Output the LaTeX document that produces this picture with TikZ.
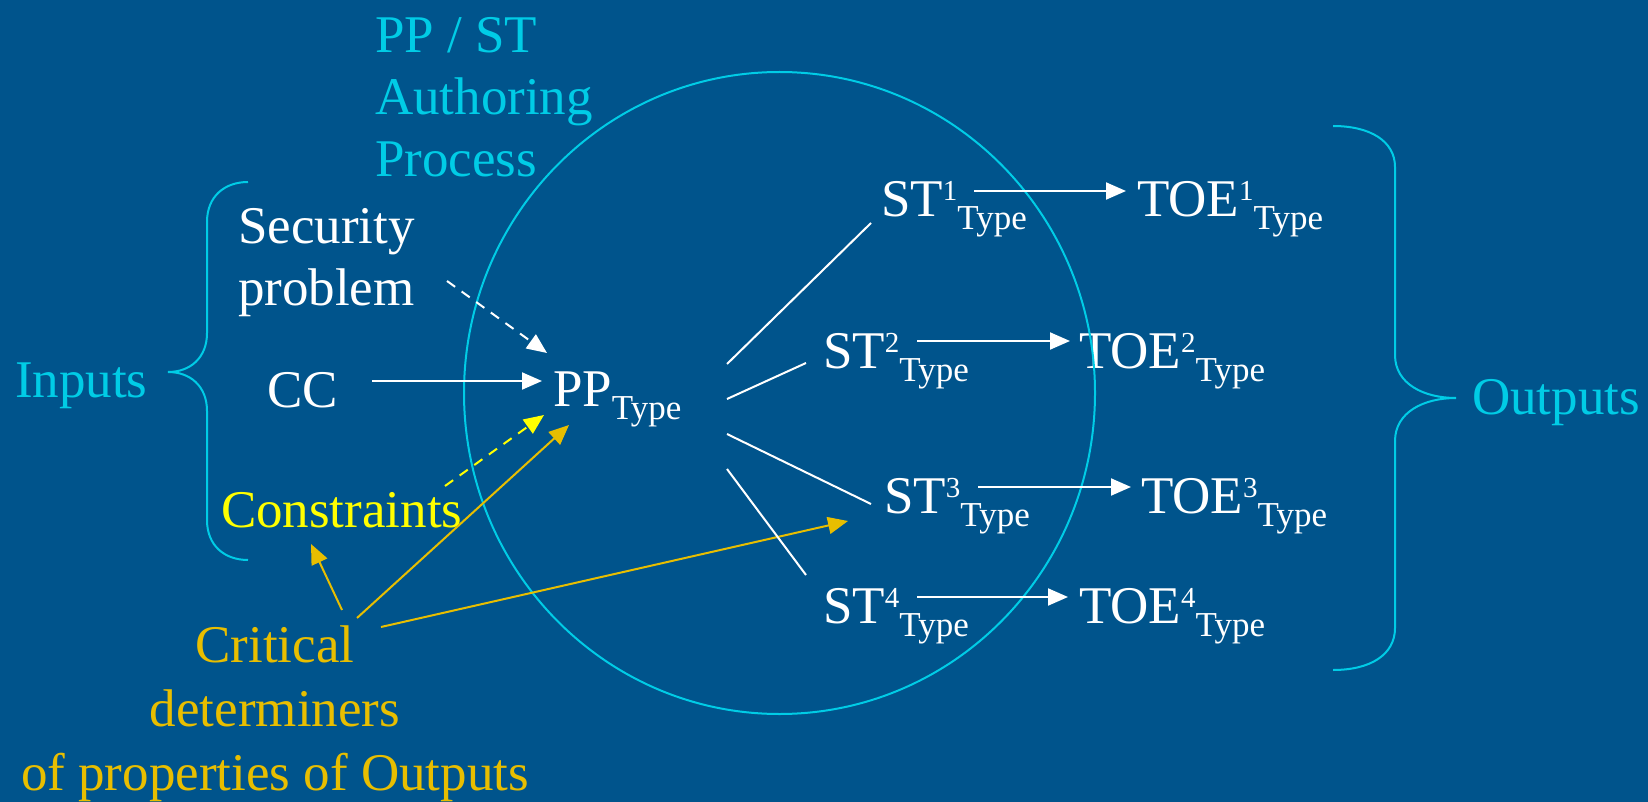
\documentclass[tikz,border=0pt]{standalone}
\usepackage{fontspec}
\setmainfont{Liberation Serif}
\usetikzlibrary{arrows.meta}

\definecolor{bgblue}{RGB}{0,84,140}
\definecolor{cyanx}{RGB}{0,204,230}
\definecolor{yelx}{RGB}{255,255,0}
\definecolor{goldx}{RGB}{232,190,0}

% raised / lowered small text, set one after the other
\newcommand\supx[1]{\raisebox{8pt}{\fontsize{14.5}{14.5}\selectfont #1}}
\newcommand\subx[1]{\raisebox{-6.5pt}{\fontsize{17.5}{17.5}\selectfont #1}}
\newcommand\ctrline[1]{\hbox to 0pt{\hss #1\hss}}

\tikzset{
  every node/.style={inner sep=0pt, outer sep=0pt, font=\fontsize{26.5}{31}\selectfont},
  lbl/.style={anchor=base west},
  wline/.style={white, line width=1pt},
  warr/.style={white, line width=1pt, -{Triangle[length=10pt,width=8.5pt]}},
  garr/.style={goldx, line width=1pt, -{Triangle[length=10pt,width=8.5pt]}},
  dashy/.style={line width=1pt, dash pattern=on 5pt off 4pt},
  bracex/.style={cyanx, line width=1pt},
}

\begin{document}
\begin{tikzpicture}[x=0.5pt, y=-0.5pt]
  \fill[bgblue] (0,0) rectangle (1648,802);
  \useasboundingbox (0,0) rectangle (1648,802);

  % labels
  \node[lbl, text=cyanx] (title) at (375,53)
    {\vtop{\baselineskip=31pt\hbox{PP / ST}\hbox{Authoring}\hbox{Process}}};
  \node[lbl, text=white] (secprob) at (238,243)
    {\vtop{\baselineskip=31pt\hbox{Security}\hbox{problem}}};
  \node[lbl, text=white] (cc) at (267,407) {CC};
  \node[lbl, text=white] (pp) at (553,406) {PP\subx{Type}};
  \node[lbl, text=yelx] (cons) at (221,527) {Constraints};
  \node[anchor=base, text=goldx] (crit) at (275,662)
    {\vtop{\baselineskip=32pt\ctrline{Critical}\ctrline{determiners}\ctrline{of properties of Outputs}}};
  \node[lbl, text=cyanx] (inputs) at (15,397) {Inputs};
  \node[lbl, text=cyanx] (outputs) at (1472,414) {Outputs};

  \node[lbl, text=white] (st1) at (881,217) {ST\supx{1}\subx{Type}};
  \node[lbl, text=white] (st2) at (823,368) {ST\supx{2}\subx{Type}};
  \node[lbl, text=white] (st3) at (884,513) {ST\supx{3}\subx{Type}};
  \node[lbl, text=white] (st4) at (823,623) {ST\supx{4}\subx{Type}};
  \node[lbl, text=white] (toe1) at (1137,217) {TOE\supx{1}\subx{Type}};
  \node[lbl, text=white] (toe2) at (1079,368) {TOE\supx{2}\subx{Type}};
  \node[lbl, text=white] (toe3) at (1141,513) {TOE\supx{3}\subx{Type}};
  \node[lbl, text=white] (toe4) at (1079,623) {TOE\supx{4}\subx{Type}};

  % authoring process boundary
  \draw[cyanx, line width=1pt] (779.5,393) ellipse [x radius=157.75pt, y radius=160.5pt];

  % braces
  \draw[bracex] (248,182) .. controls (225,182) and (207,196) .. (207,222)
    -- (207,333) .. controls (207,358) and (190,372) .. (168,372)
    .. controls (190,372) and (207,386) .. (207,411)
    -- (207,520) .. controls (207,546) and (225,560) .. (248,560);
  \draw[bracex] (1333,126) .. controls (1370,126) and (1395,141) .. (1395,167)
    -- (1395,355) .. controls (1395,384) and (1424,398) .. (1456,398)
    .. controls (1424,398) and (1395,412) .. (1395,441)
    -- (1395,628) .. controls (1395,655) and (1370,670) .. (1333,670);

  % connector end points
  \coordinate (sp-out) at (447,281);
  \coordinate (pp-in1) at (547,353);
  \coordinate (cc-out) at (372,381);
  \coordinate (pp-in2) at (542,381);
  \coordinate (cons-out) at (445,486);
  \coordinate (pp-in3) at (544,415);
  \coordinate (crit-a) at (357,618);
  \coordinate (pp-in4) at (569,425);
  \coordinate (crit-b) at (342,610);
  \coordinate (cons-in) at (311,544);
  \coordinate (crit-c) at (381,627);
  \coordinate (st3-in) at (848,521);
  \coordinate (pp-o1) at (727,364);
  \coordinate (pp-o2) at (727,399);
  \coordinate (pp-o3) at (727,434);
  \coordinate (pp-o4) at (727,469);
  \coordinate (st1-in) at (871,223);
  \coordinate (st2-in) at (806,363);
  \coordinate (st3-in2) at (871,504);
  \coordinate (st4-in) at (806,575);
  \coordinate (st1-out) at (974,191);
  \coordinate (toe1-in) at (1126,191);
  \coordinate (st2-out) at (917,341);
  \coordinate (toe2-in) at (1070,341);
  \coordinate (st3-out) at (978,487);
  \coordinate (toe3-in) at (1131,487);
  \coordinate (st4-out) at (917,597);
  \coordinate (toe4-in) at (1068,597);

  % inputs into the PP
  \draw[warr, dashy] (sp-out) -- (pp-in1);
  \draw[warr] (cc-out) -- (pp-in2);
  \draw[warr, dashy, yelx] (cons-out) -- (pp-in3);
  \draw[garr] (crit-a) -- (pp-in4);
  \draw[garr] (crit-b) -- (cons-in);
  \draw[garr] (crit-c) -- (st3-in);

  % PP fans out into the STs
  \draw[wline] (pp-o1) -- (st1-in);
  \draw[wline] (pp-o2) -- (st2-in);
  \draw[wline] (pp-o3) -- (st3-in2);
  \draw[wline] (pp-o4) -- (st4-in);

  % each ST yields its TOE
  \draw[warr] (st1-out) -- (toe1-in);
  \draw[warr] (st2-out) -- (toe2-in);
  \draw[warr] (st3-out) -- (toe3-in);
  \draw[warr] (st4-out) -- (toe4-in);
\end{tikzpicture}
\end{document}
